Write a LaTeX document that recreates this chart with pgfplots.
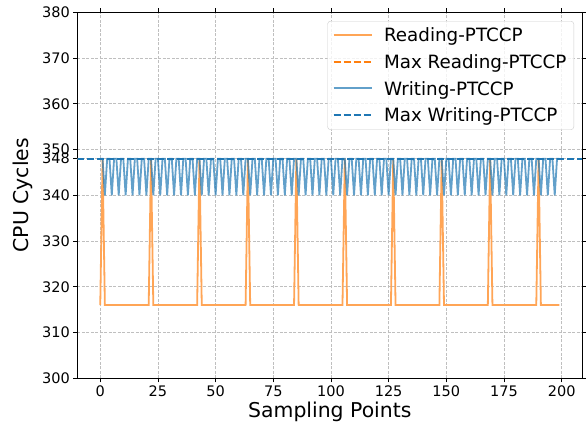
\documentclass[border=0pt]{standalone}
\usepackage{fontspec}
\setmainfont{DejaVu Sans}
\usepackage{pgfplots}
\pgfplotsset{compat=1.18}
\definecolor{taborange}{HTML}{FF7F0E}
\definecolor{tabblue}{HTML}{1F77B4}
\definecolor{lorange}{RGB}{255,165,86}
\definecolor{lblue}{RGB}{98,160,202}
\begin{document}
\begin{tikzpicture}
\begin{axis}[
  scale only axis,
  width=505bp, height=366bp,
  xmin=-9.95, xmax=208.95,
  ymin=300, ymax=380,
  xtick={0,25,50,75,100,125,150,175,200},
  ytick={300,310,320,330,340,348,350,360,370,380},
  tick align=outside,
  major tick length=4bp,
  tick style={black, line width=0.8bp},
  axis line style={black, line width=0.9bp},
  grid=major,
  grid style={gray!50, dash pattern=on 3bp off 1.5bp, line width=0.7bp},
  /pgf/number format/assume math mode=true,
  ticklabel style={font=\fontsize{14.5bp}{17bp}\selectfont},
  xlabel={Sampling Points},
  ylabel={CPU Cycles},
  label style={font=\fontsize{20.4bp}{24bp}\selectfont},
  xlabel style={at={(axis description cs:0.5,-0.092)}, anchor=center},
  ylabel style={at={(axis description cs:-0.1075,0.5)}, anchor=center},
  legend cell align=left,
  legend style={at={(rel axis cs:0.9836,0.9762)}, anchor=north east,
    font=\fontsize{18.3bp}{21bp}\selectfont,
    draw=gray!40, rounded corners=3bp, fill=white, fill opacity=0.8, text opacity=1,
    row sep=6.3bp, column sep=9bp, inner xsep=5bp, inner ysep=4bp,
    nodes={inner sep=2.5bp}},
  legend image code/.code={\draw[#1, yshift=0.4bp] (0bp,0bp) -- (38bp,0bp);},
]
\addlegendimage{lorange, line width=2bp, draw opacity=1}
\addlegendentry{Reading-PTCCP}
\addlegendimage{taborange, line width=1.8bp, dash pattern=on 7bp off 3bp}
\addlegendentry{Max Reading-PTCCP}
\addlegendimage{lblue, line width=2bp, draw opacity=1}
\addlegendentry{Writing-PTCCP}
\addlegendimage{tabblue, line width=1.8bp, dash pattern=on 7bp off 3bp}
\addlegendentry{Max Writing-PTCCP}
\addplot[forget plot, lorange, line width=1.8bp] coordinates {
(0,316)(1,348)(2,316)(21,316)(22,348)(23,316)(42,316)(43,348)(44,316)
(63,316)(64,348)(65,316)(84,316)(85,348)(86,316)(105,316)(106,348)(107,316)
(126,316)(127,348)(128,316)(147,316)(148,348)(149,316)(168,316)(169,348)(170,316)
(189,316)(190,348)(191,316)(199,316)
};
\addplot[forget plot, taborange, line width=1.8bp, dash pattern=on 7bp off 3bp] coordinates {(-9.95,348) (208.95,348)};
\addplot[forget plot, tabblue, opacity=0.7, line width=1.8bp] coordinates {
(0,348)(1,348)(2,340)(3,348)(4,348)(5,340)(6,348)(7,348)(8,340)
(9,348)(10,348)(11,340)(12,348)(13,348)(14,340)(15,348)(16,348)(17,340)
(18,348)(19,348)(20,340)(21,348)(22,348)(23,340)(24,348)(25,348)(26,340)
(27,348)(28,348)(29,340)(30,348)(31,348)(32,340)(33,348)(34,348)(35,340)
(36,348)(37,348)(38,340)(39,348)(40,348)(41,340)(42,348)(43,348)(44,340)
(45,348)(46,348)(47,340)(48,348)(49,348)(50,340)(51,348)(52,348)(53,340)
(54,348)(55,348)(56,340)(57,348)(58,348)(59,340)(60,348)(61,348)(62,340)
(63,348)(64,348)(65,340)(66,348)(67,348)(68,340)(69,348)(70,348)(71,340)
(72,348)(73,348)(74,340)(75,348)(76,348)(77,340)(78,348)(79,348)(80,340)
(81,348)(82,348)(83,340)(84,348)(85,348)(86,340)(87,348)(88,348)(89,340)
(90,348)(91,348)(92,340)(93,348)(94,348)(95,340)(96,348)(97,348)(98,340)
(99,348)(100,348)(101,340)(102,348)(103,348)(104,340)(105,348)(106,348)(107,340)
(108,348)(109,348)(110,340)(111,348)(112,348)(113,340)(114,348)(115,348)(116,340)
(117,348)(118,348)(119,340)(120,348)(121,348)(122,340)(123,348)(124,348)(125,340)
(126,348)(127,348)(128,340)(129,348)(130,348)(131,340)(132,348)(133,348)(134,340)
(135,348)(136,348)(137,340)(138,348)(139,348)(140,340)(141,348)(142,348)(143,340)
(144,348)(145,348)(146,340)(147,348)(148,348)(149,340)(150,348)(151,348)(152,340)
(153,348)(154,348)(155,340)(156,348)(157,348)(158,340)(159,348)(160,348)(161,340)
(162,348)(163,348)(164,340)(165,348)(166,348)(167,340)(168,348)(169,348)(170,340)
(171,348)(172,348)(173,340)(174,348)(175,348)(176,340)(177,348)(178,348)(179,340)
(180,348)(181,348)(182,340)(183,348)(184,348)(185,340)(186,348)(187,348)(188,340)
(189,348)(190,348)(191,340)(192,348)(193,348)(194,340)(195,348)(196,348)(197,340)
(198,348)(199,348)
};
\addplot[forget plot, tabblue, line width=1.8bp, dash pattern=on 7bp off 3bp] coordinates {(-9.95,348) (208.95,348)};
\end{axis}
\pgfresetboundingbox
\path (-77.3bp,-53.7bp) rectangle (508.7bp,378.3bp);
\end{tikzpicture}
\end{document}
